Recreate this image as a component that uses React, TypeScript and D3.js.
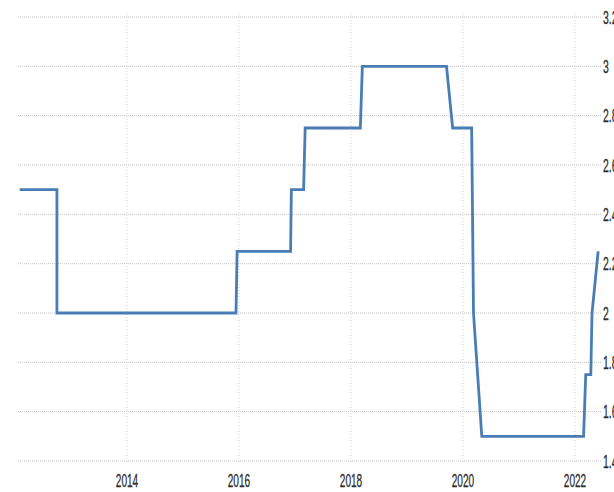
import React from "react";
import * as d3 from "d3";

const dates: string[] = [
  "2012-02-01", "2012-10-01", "2012-10-01",
  "2015-12-13", "2015-12-20",
  "2016-12-03", "2016-12-08",
  "2017-02-26", "2017-03-08",
  "2018-03-03", "2018-03-16",
  "2019-09-16", "2019-10-26",
  "2020-02-27", "2020-03-10", "2020-05-03",
  "2022-02-26", "2022-03-12",
  "2022-04-14", "2022-04-22",
  "2022-06-01",
];
const rates: number[] = [
  2.5, 2.5, 2.0,
  2.0, 2.25,
  2.25, 2.5,
  2.5, 2.75,
  2.75, 3.0,
  3.0, 2.75,
  2.75, 2.0, 1.5,
  1.5, 1.75,
  1.75, 2.0,
  2.25,
];
const yTicks: number[] = [1.4, 1.6, 1.8, 2.0, 2.2, 2.4, 2.6, 2.8, 3.0, 3.2];
const xTickYears: number[] = [2014, 2016, 2018, 2020, 2022];

const W = 614;
const H = 492;
const FONT = "'Liberation Sans', Arial, sans-serif";

export default function App() {
  const parse = d3.timeParse("%Y-%m-%d");
  const x = d3
    .scaleTime()
    .domain([new Date(2014, 0, 1), new Date(2022, 0, 1)])
    .range([127, 575]);
  const y = d3.scaleLinear().domain([1.4, 3.2]).range([461, 17]);

  const pts = dates.map((d, i) => ({ date: parse(d) as Date, v: rates[i] }));
  const line = d3
    .line<{ date: Date; v: number }>()
    .x((d) => x(d.date))
    .y((d) => y(d.v));

  const gridLeft = 18;
  const gridRight = 601;

  return (
    <svg
      width={W}
      height={H}
      style={{ position: "absolute", left: 0, top: 0, background: "#fff" }}
    >
      <rect x={0} y={0} width={W} height={H} fill="#fff" />
      {xTickYears.map((yr) => {
        const xx = x(new Date(yr, 0, 1));
        return (
          <line
            key={"vg" + yr}
            x1={xx}
            x2={xx}
            y1={14}
            y2={462}
            stroke="#d2d2d2"
            strokeWidth={1}
            strokeDasharray="1,2"
          />
        );
      })}
      {yTicks.map((t) => (
        <line
          key={"hg" + t}
          x1={gridLeft}
          x2={gridRight}
          y1={y(t)}
          y2={y(t)}
          stroke="#c4c4c4"
          strokeWidth={1}
          strokeDasharray="1,1"
        />
      ))}
      <path
        d={line(pts) || ""}
        fill="none"
        stroke="#4a7db5"
        strokeWidth={2.8}
        strokeLinejoin="miter"
      />
      {yTicks.map((t) => (
        <text
          key={"yl" + t}
          transform={`translate(603,${y(t) + 6.5}) scale(0.58,1)`}
          fontFamily={FONT}
          fontSize={18}
          fill="#2e2e2e"
          stroke="#2e2e2e"
          strokeWidth={0.3}
        >
          {String(+t.toFixed(1))}
        </text>
      ))}
      {xTickYears.map((yr) => (
        <text
          key={"xl" + yr}
          transform={`translate(${x(new Date(yr, 0, 1))},487) scale(0.56,1)`}
          textAnchor="middle"
          fontFamily={FONT}
          fontSize={18}
          fill="#2e2e2e"
          stroke="#2e2e2e"
          strokeWidth={0.3}
        >
          {yr}
        </text>
      ))}
    </svg>
  );
}
